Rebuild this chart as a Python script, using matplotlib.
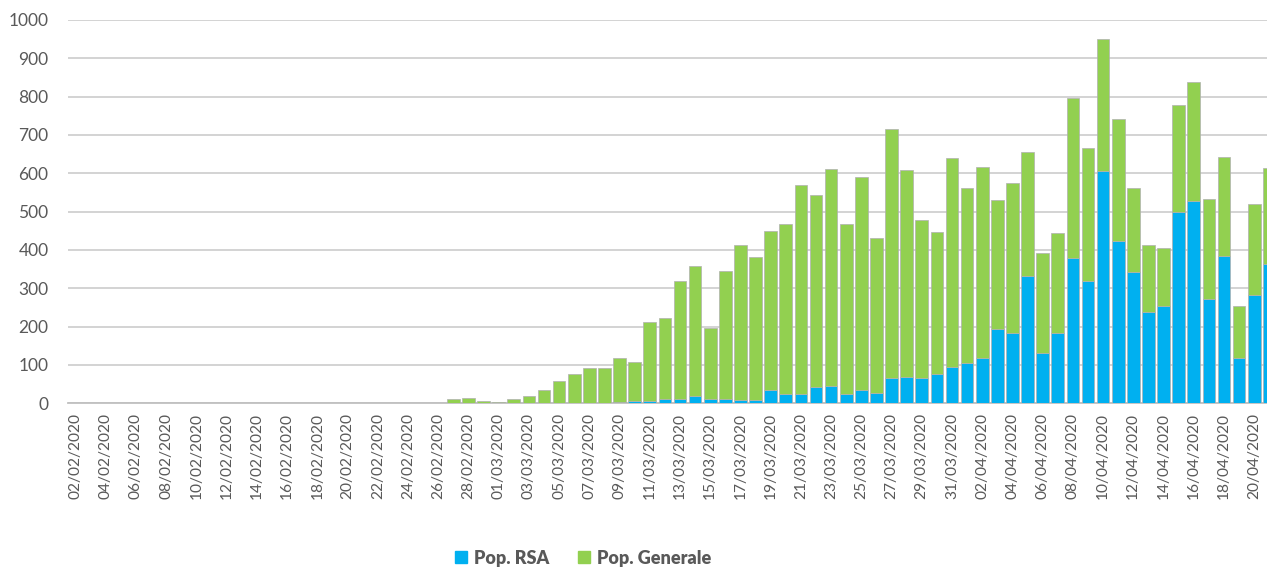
import numpy as np
import pandas as pd
import matplotlib.pyplot as plt
from matplotlib.patches import Patch

# Dati (02/02/2020 - 21/04/2020)
date = pd.date_range('2020-02-02', '2020-04-21', freq='D').strftime('%d/%m/%Y').tolist()

# Totale giornaliero (RSA + Generale)
totale = [0] * 25 + [
    12, 14, 6, 3, 10, 18, 34, 57, 76, 91,
    91, 117, 108, 211, 222, 318, 358, 197, 346, 414,
    382, 450, 467, 570, 543, 610, 467, 590, 430, 715,
    609, 477, 446, 641, 563, 616, 530, 576, 655, 391,
    443, 797, 665, 950, 743, 561, 413, 405, 778, 837,
    533, 643, 253, 519, 614]

# Quota RSA
rsa = [0] * 25 + [
    0, 0, 0, 0, 0, 0, 0, 0, 0, 0,
    0, 3, 6, 6, 12, 12, 19, 12, 10, 9,
    9, 35, 25, 23, 43, 45, 23, 34, 26, 66,
    68, 66, 77, 96, 105, 117, 195, 184, 332, 130,
    183, 378, 319, 606, 423, 342, 237, 253, 499, 528,
    273, 385, 117, 283, 364]

generale = [t - r for t, r in zip(totale, rsa)]

BLU = '#00B0F0'
VERDE = '#92D050'
GRIGIO = '#595959'

plt.rcParams['font.family'] = ['Lato', 'DejaVu Sans']

fig = plt.figure(figsize=(12.67, 5.67), dpi=100)
ax = fig.add_axes([68 / 1267, 1 - 403.3 / 567, 1 - 68 / 1267, (403.3 - 20) / 567])

x = np.arange(len(date))
# bordo grigio solo sulle barre non nulle
bordo_rsa = ['#b0b0b0' if v > 0 else 'none' for v in rsa]
bordo_gen = ['#b0b0b0' if v > 0 else 'none' for v in generale]
ax.bar(x, rsa, width=0.84, color=BLU, edgecolor=bordo_rsa, linewidth=0.5, zorder=3)
ax.bar(x, generale, bottom=rsa, width=0.84, color=VERDE, edgecolor=bordo_gen, linewidth=0.5, zorder=3)

ax.set_ylim(0, 1000)
ax.set_xlim(-0.5, (1267 - 75.6) / 15.11)
ax.set_yticks(np.arange(0, 1001, 100))
ax.set_xticks(x[::2])
ax.set_xticklabels(date[::2], rotation=90, fontsize=11.2, color=GRIGIO)
ax.tick_params(axis='y', length=0, pad=14, labelsize=12.5, labelcolor=GRIGIO)
ax.tick_params(axis='x', length=0, pad=7)

ax.grid(axis='y', color='#c8c8c8', linewidth=1.1, zorder=0)
for lato in ['top', 'right', 'left']:
    ax.spines[lato].set_visible(False)
ax.spines['bottom'].set_color('#c0c0c0')
ax.spines['bottom'].set_linewidth(1.3)

maniglie = [Patch(color=BLU, label='Pop. RSA'), Patch(color=VERDE, label='Pop. Generale')]
leg = fig.legend(handles=maniglie, loc='lower center', bbox_to_anchor=(0.4605, -0.028), ncol=2,
                 frameon=False, handlelength=0.65, handleheight=0.65, handletextpad=0.4,
                 columnspacing=1.6, prop={'weight': 'heavy', 'size': 13})
for t in leg.get_texts():
    t.set_color(GRIGIO)

fig.savefig('out.png', dpi=100)
